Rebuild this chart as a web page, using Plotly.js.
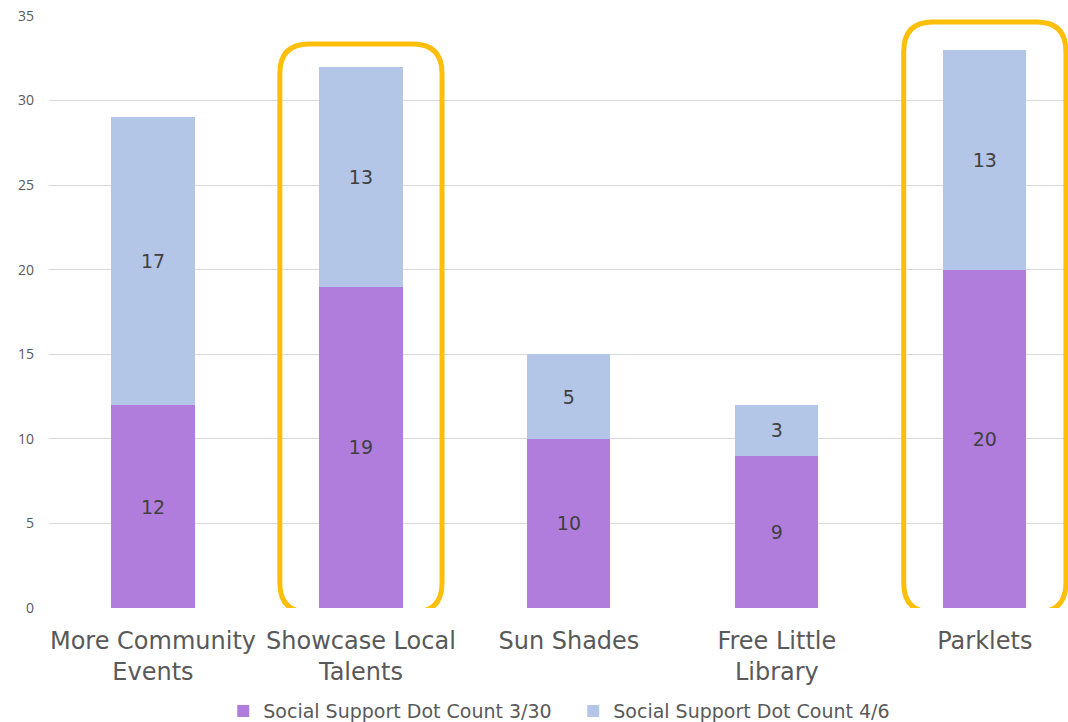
<!DOCTYPE html>
<html><head><meta charset="utf-8">
<script src="https://cdn.plot.ly/plotly-3.0.1.min.js"></script>
<style>html,body{margin:0;padding:0;background:#fff}#chart{width:1068px;height:722px}</style>
</head><body><div id="chart"></div>
<script>
const categories = ["More Community<br>Events", "Showcase Local<br>Talents", "Sun Shades", "Free Little<br>Library", "Parklets"];
const count330 = [12, 19, 10, 9, 20];
const count46 = [17, 13, 5, 3, 13];
const seriesNames = ["Social Support Dot Count 3/30", "Social Support Dot Count 4/6"];
const highlighted = [1, 4];

function roundRect(cx, hw, y0, y1, rx, ry) {
  const x0 = cx - hw, x1 = cx + hw;
  return `M ${x0+rx},${y1} L ${x1-rx},${y1} Q ${x1},${y1} ${x1},${y1-ry} L ${x1},${y0+ry} Q ${x1},${y0} ${x1-rx},${y0} L ${x0+rx},${y0} Q ${x0},${y0} ${x0},${y0+ry} L ${x0},${y1-ry} Q ${x0},${y1} ${x0+rx},${y1} Z`;
}

const textFont = {family: "DejaVu Sans, sans-serif", size: 19, color: "#404040"};
const traces = [
  {type: "bar", name: seriesNames[0], x: [0,1,2,3,4], y: count330, width: 0.4,
   marker: {color: "#b07ddc"}, text: count330.map(String), textposition: "inside",
   insidetextanchor: "middle", textfont: textFont, hoverinfo: "y+name"},
  {type: "bar", name: seriesNames[1], x: [0,1,2,3,4], y: count46, width: 0.4,
   marker: {color: "#b4c6e7"}, text: count46.map(String), textposition: "inside",
   insidetextanchor: "middle", textfont: textFont, hoverinfo: "y+name"}
];

const tops = [33.35, 34.65];
const shapes = highlighted.map((c, i) => ({
  type: "path", xref: "x", yref: "y", layer: "above",
  path: roundRect(c, 0.39, -0.25, tops[i], 0.14, 1.75),
  line: {color: "#fdbf0a", width: 5}, fillcolor: "rgba(0,0,0,0)"
}));

const layout = {
  width: 1068, height: 722,
  margin: {l: 49, r: 0, t: 16, b: 114},
  paper_bgcolor: "#fff", plot_bgcolor: "#fff",
  barmode: "stack", showlegend: true,
  xaxis: {range: [-0.5, 4.4], tickmode: "array", tickvals: [0,1,2,3,4], ticktext: categories,
          automargin: false,
          showgrid: false, zeroline: false, showline: false, ticks: "", ticklabelstandoff: 16,
          tickfont: {family: "DejaVu Sans, sans-serif", size: 24, color: "#595959"}},
  yaxis: {range: [0, 35], dtick: 5, showgrid: true, gridcolor: "#d9d9d9", gridwidth: 1,
          automargin: false,
          zeroline: false, showline: false, ticks: "", ticklabelstandoff: 14,
          tickfont: {family: "Open Sans, sans-serif", size: 14, color: "#595959"}},
  legend: {orientation: "h", x: 0.171, xanchor: "left", yref: "container", y: 0.015, yanchor: "middle",
           font: {family: "DejaVu Sans, sans-serif", size: 19, color: "#595959"},
           itemwidth: 30, entrywidth: 305, traceorder: "normal"},
  shapes: shapes
};
Plotly.newPlot("chart", traces, layout, {displayModeBar: false, staticPlot: true});
</script></body></html>
